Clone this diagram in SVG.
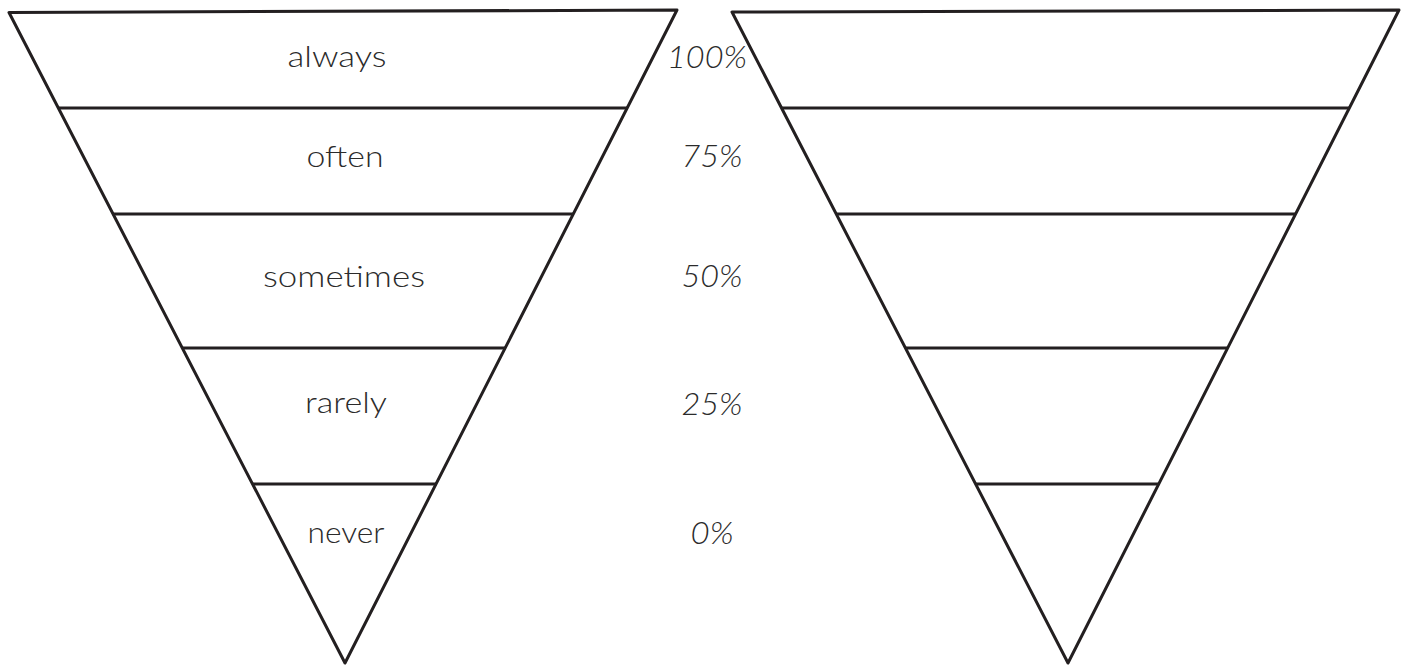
<svg xmlns="http://www.w3.org/2000/svg" width="1407" height="665" viewBox="0 0 1407 665">
<style>
.edge{fill:none;stroke:#231f20;stroke-width:3;stroke-linejoin:round}
.band{stroke:#231f20;stroke-width:3}
.lbl{font-family:Lato,"Open Sans","Liberation Sans",sans-serif;font-weight:300;font-size:29px;fill:#2b2b2b;text-anchor:middle}
.pct{font-family:Lato,"Liberation Sans",sans-serif;font-weight:300;font-style:italic;font-size:32px;fill:#2b2b2b;text-anchor:middle}
</style>
<rect width="1407" height="665" fill="#ffffff"/>
<g id="left-funnel">
<polygon class="edge" points="9,12.5 677,10 345,663"/>
<line class="band" x1="58.3" y1="108" x2="627.2" y2="108"/>
<line class="band" x1="112.9" y1="214" x2="573.3" y2="214"/>
<line class="band" x1="182" y1="348" x2="505.2" y2="348"/>
<line class="band" x1="252.3" y1="484" x2="436.3" y2="484"/>
</g>
<g id="right-funnel">
<polygon class="edge" points="732,12 1399,10 1068,663"/>
<line class="band" x1="781.5" y1="108" x2="1349.4" y2="108"/>
<line class="band" x1="836.1" y1="214" x2="1295.8" y2="214"/>
<line class="band" x1="905.1" y1="348" x2="1227.9" y2="348"/>
<line class="band" x1="975.2" y1="484" x2="1159.1" y2="484"/>
</g>
<g id="labels">
<text class="lbl" x="337" y="67" textLength="99" lengthAdjust="spacingAndGlyphs">always</text>
<text class="lbl" x="345" y="167" textLength="77" lengthAdjust="spacingAndGlyphs">often</text>
<text class="lbl" x="344" y="287" textLength="162" lengthAdjust="spacingAndGlyphs">sometimes</text>
<text class="lbl" x="346" y="413" textLength="82" lengthAdjust="spacingAndGlyphs">rarely</text>
<text class="lbl" x="346" y="543" textLength="77" lengthAdjust="spacingAndGlyphs">never</text>
</g>
<g id="percentages">
<text class="pct" x="707" y="68" textLength="80" lengthAdjust="spacingAndGlyphs">100%</text>
<text class="pct" x="712" y="167" textLength="61" lengthAdjust="spacingAndGlyphs">75%</text>
<text class="pct" x="712" y="287" textLength="61" lengthAdjust="spacingAndGlyphs">50%</text>
<text class="pct" x="712" y="415" textLength="61" lengthAdjust="spacingAndGlyphs">25%</text>
<text class="pct" x="712" y="544" textLength="43" lengthAdjust="spacingAndGlyphs">0%</text>
</g>
</svg>
